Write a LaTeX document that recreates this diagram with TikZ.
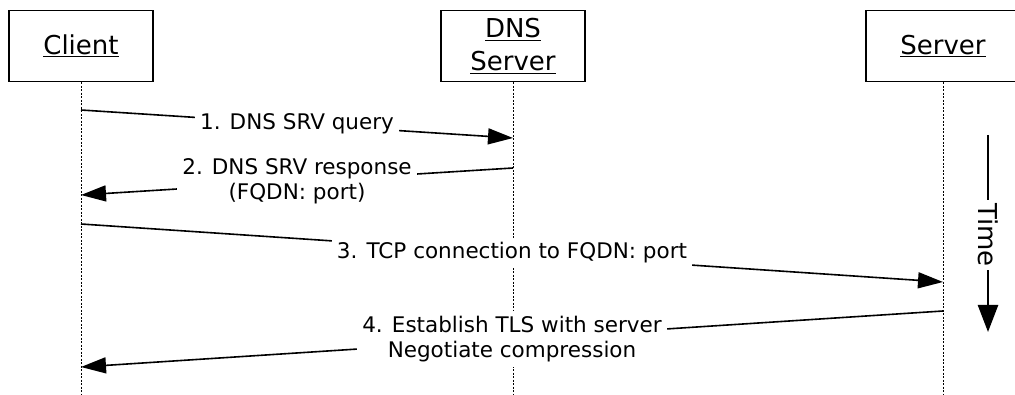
\documentclass[tikz,border=0pt]{standalone}
\usepackage{fontspec}
\setmainfont{DejaVu Sans}
\usetikzlibrary{arrows.meta}
\tikzset{
  actor/.style={draw,line width=1.3pt,minimum width=144pt,minimum height=71pt,
    align=center,inner sep=0pt,font=\fontsize{26}{33}\selectfont},
  lifeline/.style={line width=1pt,dash pattern=on 2pt off 1.5pt},
  msg/.style={line width=1.6pt,-{Triangle[length=25pt,width=16pt]}},
  msglabel/.style={fill=white,align=center,inner sep=5pt,
    font=\fontsize{21.5}{25}\selectfont}
}
\begin{document}
\begin{tikzpicture}[x=1pt,y=-1pt]
    \useasboundingbox (0,0) rectangle (1015,395);
    % participants
    \node[actor] (client) at (81,46) {\underline{Client}};
    \node[actor] (dns) at (513,46) {\underline{DNS}\\\underline{Server}};
    \node[actor,minimum width=154pt] (server) at (943,46) {\underline{Server}};
    \coordinate (clientend) at (81,395);
    \coordinate (dnsend) at (513,395);
    \coordinate (serverend) at (943,395);
    \draw[lifeline] (client) -- (clientend);
    \draw[lifeline] (dns) -- (dnsend);
    \draw[lifeline] (server) -- (serverend);
    % message points
    \coordinate (c1) at (81,110);
    \coordinate (d1) at (513,138);
    \coordinate (d2) at (513,168);
    \coordinate (c2) at (81,195);
    \coordinate (c3) at (81,224);
    \coordinate (s3) at (943,282);
    \coordinate (s4) at (943,311);
    \coordinate (c4) at (81,367);
    \draw[msg] (c1) -- node[msglabel] {1. DNS SRV query} (d1);
    \draw[msg] (d2) -- node[msglabel] {2. DNS SRV response\\(FQDN: port)} (c2);
    \draw[msg] (c3) -- node[msglabel] {3. TCP connection to FQDN: port} (s3);
    \draw[msg] (s4) -- node[msglabel] {4. Establish TLS with server\\Negotiate compression} (c4);
    % time
    \coordinate (ttop) at (988,135);
    \coordinate (tbot) at (988,332);
    \node[rotate=-90,inner sep=3pt,font=\fontsize{26}{30}\selectfont] (time) at (988,235) {Time};
    \draw[line width=2.5pt] (ttop) -- (time);
    \draw[line width=2.5pt,-{Triangle[length=27pt,width=20pt]}] (time) -- (tbot);
\end{tikzpicture}
\end{document}
